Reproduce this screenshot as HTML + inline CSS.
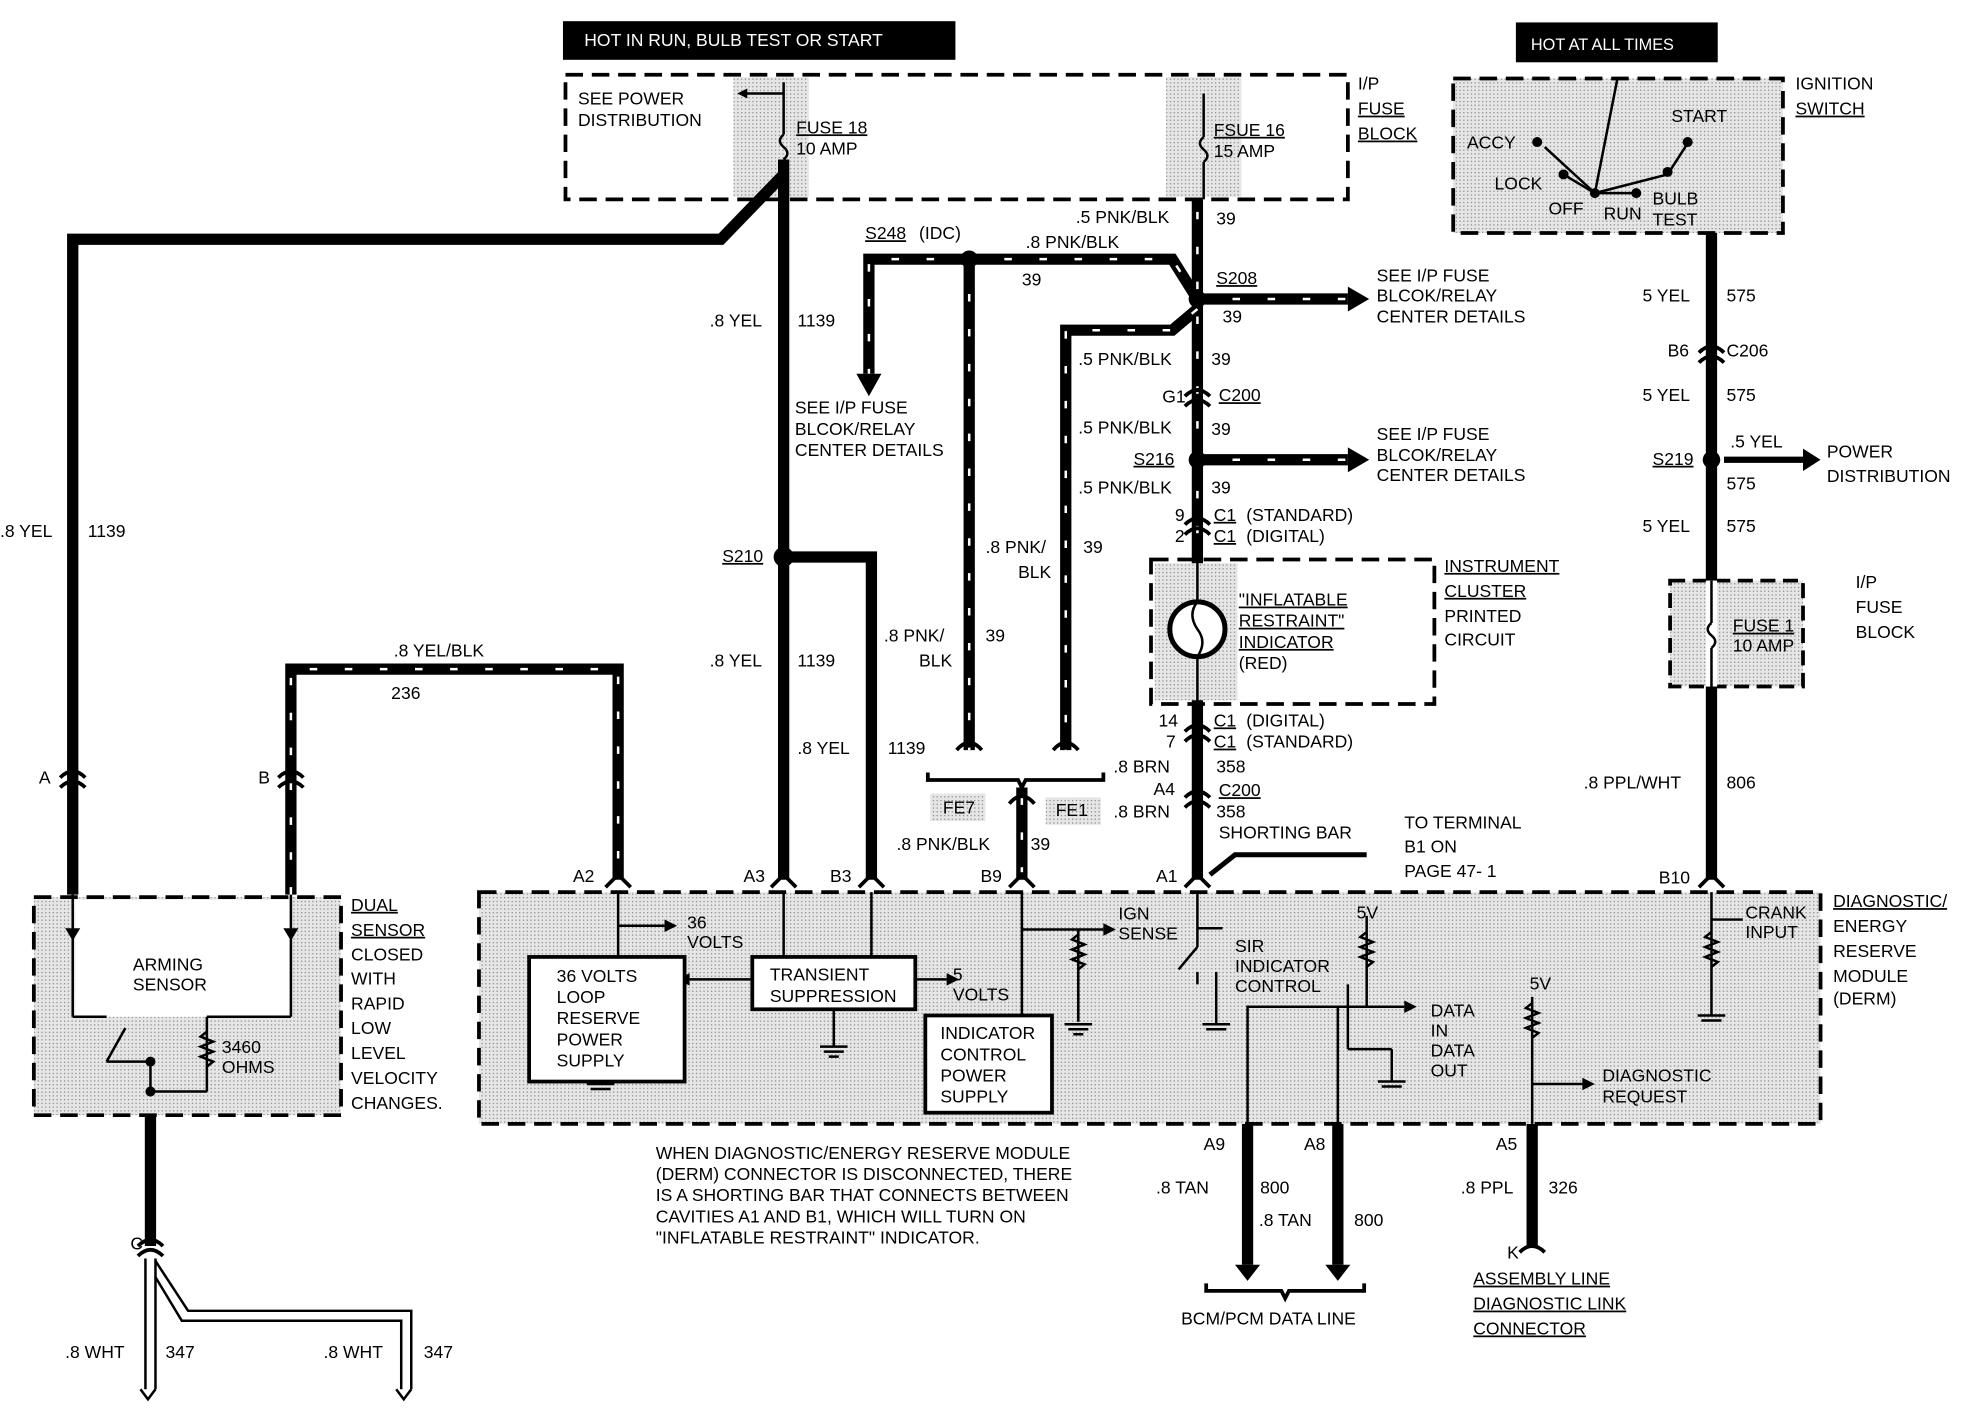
<!DOCTYPE html>
<html><head><meta charset="utf-8"><style>
html,body{margin:0;padding:0;background:#fff}
svg{display:block}
text{font-family:"Liberation Sans",sans-serif;font-size:14px;fill:#000}
</style></head><body>
<svg width="1966" height="1408" viewBox="0 0 1568 1130" preserveAspectRatio="none" xmlns="http://www.w3.org/2000/svg">
<defs>
<pattern id="st" width="3" height="3" patternUnits="userSpaceOnUse"><rect width="3" height="3" fill="#e6e6e6"/><rect width="1" height="1" fill="#888"/></pattern>
<marker id="ar" markerWidth="8" markerHeight="8" refX="4" refY="4" orient="auto" markerUnits="userSpaceOnUse"><path d="M0,0 L8,4 L0,8 z"/></marker>
</defs>
<rect x="449" y="17" width="313" height="31" fill="#000"/>
<text x="466" y="37" style="fill:#fff;font-size:14px">HOT  IN  RUN,  BULB  TEST  OR  START</text>
<rect x="1209" y="18" width="161" height="32" fill="#000"/>
<text x="1221" y="40" style="fill:#fff;font-size:13px">HOT  AT  ALL  TIMES</text>

<rect x="585" y="62" width="60" height="96" fill="url(#st)"/>
<rect x="930" y="62" width="60" height="96" fill="url(#st)"/>
<rect x="451" y="60" width="624" height="100" fill="none" stroke="#000" stroke-width="3" stroke-dasharray="14,7"/>
<text x="461" y="84">SEE POWER</text><text x="461" y="101">DISTRIBUTION</text>
<line x1="625" y1="75" x2="592" y2="75" stroke="#000" stroke-width="2" marker-end="url(#ar)"/>
<line x1="625" y1="66" x2="625" y2="108" stroke="#000" stroke-width="2"/>
<path d="M625,108 q-6,5 0,10 q6,5 0,10" fill="none" stroke="#000" stroke-width="2"/>
<text x="635" y="107" text-decoration="underline">FUSE 18</text><text x="635" y="124">10 AMP</text>
<line x1="960" y1="75" x2="960" y2="110" stroke="#000" stroke-width="2"/>
<path d="M960,110 q-6,5 0,10 q6,5 0,10" fill="none" stroke="#000" stroke-width="2"/>
<line x1="960" y1="130" x2="960" y2="160" stroke="#000" stroke-width="2"/>
<text x="968" y="109" text-decoration="underline">FSUE 16</text><text x="968" y="126">15 AMP</text>
<text x="1083" y="72">I/P</text><text x="1083" y="92" text-decoration="underline">FUSE</text><text x="1083" y="112" text-decoration="underline">BLOCK</text>

<g stroke="#000" stroke-width="9" fill="none">
<line x1="625" y1="128" x2="625" y2="706"/>
<polyline points="625,140 575,192 58,192 58,718"/>
<polyline points="625,447 695,447 695,706"/>
<polyline points="232,718 232,537 493,537 493,706"/>
<line x1="955" y1="160" x2="955" y2="706"/>
<polyline points="773,208 935,208 955,240"/>
<polyline points="773,208 693,208 693,300"/>
<line x1="955" y1="240" x2="1075" y2="240"/>
<polyline points="955,248 935,265 850,265 850,602"/>
<line x1="773" y1="208" x2="773" y2="602"/>
<line x1="955" y1="369" x2="1075" y2="369"/>
<line x1="1365" y1="187" x2="1365" y2="706"/>
<line x1="815" y1="632" x2="815" y2="706"/>
<line x1="995" y1="902" x2="995" y2="1015"/>
<line x1="1067" y1="902" x2="1067" y2="1015"/>
<line x1="1222" y1="902" x2="1222" y2="1000"/>
<line x1="120" y1="880" x2="120" y2="1000"/>
</g>
<g stroke="#fff" stroke-width="2" fill="none" stroke-dasharray="6,22">
<polyline points="232,718 232,537 493,537 493,706"/>
<polyline points="773,208 935,208 955,240"/>
<polyline points="773,208 693,208 693,300"/>
<line x1="955" y1="240" x2="1075" y2="240"/>
<polyline points="955,248 935,265 850,265 850,602"/>
<line x1="773" y1="208" x2="773" y2="602"/>
<line x1="955" y1="369" x2="1075" y2="369"/>
<line x1="815" y1="640" x2="815" y2="700"/>
<line x1="955" y1="170" x2="955" y2="440"/>
</g>
<polygon points="1075,230 1092,240 1075,250" />
<polygon points="1075,359 1092,369 1075,379" />
<polygon points="683,300 693,318 703,300"/>
<polygon points="985,1015 995,1028 1005,1015"/>
<polygon points="1057,1015 1067,1028 1077,1015"/>
<line x1="1375" y1="369" x2="1440" y2="369" stroke="#000" stroke-width="5"/>
<polygon points="1438,360 1452,369 1438,378"/>
<g fill="#000"><circle cx="773" cy="208" r="7"/><circle cx="955" cy="240" r="7"/><circle cx="955" cy="369" r="7"/><circle cx="625" cy="447" r="8"/><circle cx="1365" cy="369" r="7"/></g>

<text x="858" y="179">.5 PNK/BLK</text><text x="970" y="180">39</text>
<text x="690" y="192" text-decoration="underline">S248</text><text x="733" y="192">(IDC)</text>
<text x="818" y="199">.8 PNK/BLK</text><text x="815" y="229">39</text>
<text x="970" y="228" text-decoration="underline">S208</text><text x="975" y="259">39</text>
<text x="1098" y="226">SEE I/P FUSE</text><text x="1098" y="242">BLCOK/RELAY</text><text x="1098" y="259">CENTER DETAILS</text>
<text x="566" y="262">.8 YEL</text><text x="636" y="262">1139</text>
<text x="634" y="332">SEE I/P FUSE</text><text x="634" y="349">BLCOK/RELAY</text><text x="634" y="366">CENTER DETAILS</text>
<text x="860" y="293">.5 PNK/BLK</text><text x="966" y="293">39</text>
<text x="927" y="323">G1</text><text x="972" y="322" text-decoration="underline">C200</text>
<text x="860" y="348">.5 PNK/BLK</text><text x="966" y="349">39</text>
<text x="904" y="373" text-decoration="underline">S216</text><text x="966" y="396">39</text>
<text x="860" y="396">.5 PNK/BLK</text>
<text x="1098" y="353">SEE I/P FUSE</text><text x="1098" y="370">BLCOK/RELAY</text><text x="1098" y="386">CENTER DETAILS</text>
<text x="937" y="418">9</text><text x="968" y="418" text-decoration="underline">C1</text><text x="994" y="418">(STANDARD)</text>
<text x="937" y="435">2</text><text x="968" y="435" text-decoration="underline">C1</text><text x="994" y="435">(DIGITAL)</text>
<text x="0" y="431">.8 YEL</text><text x="70" y="431">1139</text>
<text x="576" y="451" text-decoration="underline">S210</text>
<text x="786" y="444">.8 PNK/</text><text x="812" y="464">BLK</text><text x="864" y="444">39</text>
<text x="566" y="535">.8 YEL</text><text x="636" y="535">1139</text>
<text x="705" y="515">.8 PNK/</text><text x="733" y="535">BLK</text><text x="786" y="515">39</text>
<text x="314" y="527">.8 YEL/BLK</text><text x="312" y="561">236</text>
<text x="636" y="605">.8 YEL</text><text x="708" y="605">1139</text>
<text x="31" y="629">A</text><text x="206" y="629">B</text>
<text x="1310" y="242">5 YEL</text><text x="1377" y="242">575</text>
<text x="1330" y="286">B6</text><text x="1377" y="286">C206</text>
<text x="1310" y="322">5 YEL</text><text x="1377" y="322">575</text>
<text x="1318" y="373" text-decoration="underline">S219</text>
<text x="1380" y="359">.5 YEL</text><text x="1377" y="393">575</text>
<text x="1457" y="367">POWER</text><text x="1457" y="387">DISTRIBUTION</text>
<text x="1310" y="427">5 YEL</text><text x="1377" y="427">575</text>
<text x="1263" y="633">.8 PPL/WHT</text><text x="1377" y="633">806</text>

<rect x="1159" y="63" width="263" height="124" fill="url(#st)" stroke="#000" stroke-width="3" stroke-dasharray="14,7"/>
<text x="1432" y="72">IGNITION</text><text x="1432" y="92" text-decoration="underline">SWITCH</text>
<g stroke="#000" stroke-width="2" fill="none">
<line x1="1290" y1="63" x2="1272" y2="155"/>
<line x1="1272" y1="155" x2="1247" y2="140"/>
<line x1="1272" y1="155" x2="1232" y2="118"/><line x1="1272" y1="155" x2="1305" y2="155"/>
<line x1="1272" y1="155" x2="1330" y2="140"/><line x1="1330" y1="140" x2="1346" y2="115"/>
</g>
<g fill="#000"><circle cx="1272" cy="155" r="4"/><circle cx="1226" cy="114" r="4"/><circle cx="1247" cy="140" r="4"/><circle cx="1305" cy="155" r="4"/><circle cx="1330" cy="138" r="4"/><circle cx="1346" cy="114" r="4"/></g>
<text x="1170" y="119">ACCY</text><text x="1192" y="152">LOCK</text><text x="1235" y="172">OFF</text><text x="1279" y="176">RUN</text>
<text x="1333" y="98">START</text><text x="1318" y="164">BULB</text><text x="1318" y="181">TEST</text>

<rect x="918" y="449" width="226" height="116" fill="none" stroke="#000" stroke-width="3" stroke-dasharray="14,7"/>
<rect x="921" y="452" width="66" height="110" fill="url(#st)"/>
<line x1="955" y1="440" x2="955" y2="575" stroke="#000" stroke-width="2"/>
<circle cx="955" cy="505" r="22" fill="#fff" stroke="#000" stroke-width="4"/>
<path d="M955,483 q-8,10 0,22 q8,10 0,22" fill="none" stroke="#000" stroke-width="2"/>
<text x="988" y="486" text-decoration="underline">"INFLATABLE</text><text x="988" y="503" text-decoration="underline">RESTRAINT"</text>
<text x="988" y="520" text-decoration="underline">INDICATOR</text><text x="988" y="537">(RED)</text>
<text x="1152" y="459" text-decoration="underline">INSTRUMENT</text><text x="1152" y="479" text-decoration="underline">CLUSTER</text>
<text x="1152" y="499">PRINTED</text><text x="1152" y="518">CIRCUIT</text>
<text x="924" y="583">14</text><text x="968" y="583" text-decoration="underline">C1</text><text x="994" y="583">(DIGITAL)</text>
<text x="930" y="600">7</text><text x="968" y="600" text-decoration="underline">C1</text><text x="994" y="600">(STANDARD)</text>
<text x="888" y="620">.8 BRN</text><text x="970" y="620">358</text>
<text x="920" y="638">A4</text><text x="972" y="639" text-decoration="underline">C200</text>
<text x="888" y="656">.8 BRN</text><text x="970" y="656">358</text>
<text x="972" y="673">SHORTING BAR</text>
<polyline points="965,702 985,686 1090,686" fill="none" stroke="#000" stroke-width="4"/>
<text x="1120" y="665">TO TERMINAL</text><text x="1120" y="684">B1 ON</text><text x="1120" y="704">PAGE 47- 1</text>

<rect x="1332" y="466" width="106" height="85" fill="url(#st)" stroke="#000" stroke-width="3" stroke-dasharray="12,6"/>
<line x1="1365" y1="466" x2="1365" y2="551" stroke="#fff" stroke-width="9"/>
<line x1="1365" y1="466" x2="1365" y2="500" stroke="#000" stroke-width="2"/>
<path d="M1365,500 q-6,5 0,10 q6,5 0,10" fill="none" stroke="#000" stroke-width="2"/>
<line x1="1365" y1="520" x2="1365" y2="551" stroke="#000" stroke-width="2"/>
<text x="1382" y="507" text-decoration="underline">FUSE 1</text><text x="1382" y="523">10 AMP</text>
<text x="1480" y="472">I/P</text><text x="1480" y="492">FUSE</text><text x="1480" y="512">BLOCK</text>

<path d="M763,602 q10,-12 20,0 M840,602 q10,-12 20,0" fill="none" stroke="#000" stroke-width="3"/>
<path d="M740,620 L740,626 L812,626 L815,632 L818,626 L880,626 L880,620" fill="none" stroke="#000" stroke-width="3"/>
<rect x="742" y="637" width="44" height="22" fill="url(#st)"/><text x="752" y="653">FE7</text>
<rect x="834" y="640" width="44" height="22" fill="url(#st)"/><text x="842" y="655">FE1</text>
<path d="M805,645 q10,-12 20,0" fill="none" stroke="#000" stroke-width="3"/>
<text x="715" y="682">.8 PNK/BLK</text><text x="822" y="682">39</text>

<g fill="none" stroke="#000" stroke-width="3">
<path d="M48,624 q10,-10 20,0 M48,632 q10,-10 20,0"/>
<path d="M222,624 q10,-10 20,0 M222,632 q10,-10 20,0"/>
<path d="M945,318 q10,-10 20,0 M945,326 q10,-10 20,0"/>
<path d="M945,421 q10,-10 20,0 M945,429 q10,-10 20,0"/>
<path d="M945,587 q10,-10 20,0 M945,595 q10,-10 20,0"/>
<path d="M945,640 q10,-10 20,0 M945,648 q10,-10 20,0"/>
<path d="M1355,283 q10,-10 20,0 M1355,291 q10,-10 20,0"/>
<path d="M110,1000 q10,-10 20,0 M110,1008 q10,-10 20,0"/>
<path d="M1212,1005 q10,-10 20,0"/>
</g>

<rect x="382" y="716" width="1070" height="186" fill="url(#st)" stroke="#000" stroke-width="3" stroke-dasharray="14,7"/>
<g stroke="#000" stroke-width="2" fill="none">
<polyline points="995,902 995,808 1067,808 1067,902"/>
</g>
<g stroke="#000" stroke-width="3" fill="none">
<path d="M483,712 l10,-10 l10,10 M615,712 l10,-10 l10,10 M685,712 l10,-10 l10,10 M805,712 l10,-10 l10,10 M945,712 l10,-10 l10,10 M1355,712 l10,-10 l10,10"/>
</g>
<text x="457" y="708">A2</text><text x="593" y="708">A3</text><text x="662" y="708">B3</text><text x="782" y="708">B9</text><text x="922" y="708">A1</text><text x="1323" y="709">B10</text>
<g stroke="#000" stroke-width="2" fill="none">
<line x1="493" y1="716" x2="493" y2="768"/><line x1="493" y1="743" x2="530" y2="743"/>
<line x1="625" y1="716" x2="625" y2="768"/><line x1="695" y1="716" x2="695" y2="768"/>
<line x1="600" y1="786" x2="550" y2="786"/><line x1="730" y1="786" x2="755" y2="786"/>
<line x1="665" y1="810" x2="665" y2="840"/>
<line x1="815" y1="716" x2="815" y2="815"/><line x1="815" y1="746" x2="880" y2="746"/>
<line x1="860" y1="746" x2="860" y2="820"/>
<line x1="955" y1="716" x2="955" y2="760"/><line x1="955" y1="760" x2="940" y2="778"/><line x1="955" y1="780" x2="955" y2="790"/>
<line x1="955" y1="745" x2="975" y2="745"/><line x1="970" y1="780" x2="970" y2="822"/>
<line x1="1090" y1="735" x2="1090" y2="808"/><line x1="1067" y1="808" x2="1120" y2="808"/>
<line x1="1075" y1="790" x2="1075" y2="842"/><line x1="1075" y1="842" x2="1110" y2="842"/><line x1="1110" y1="842" x2="1110" y2="868"/>
<line x1="1222" y1="800" x2="1222" y2="902"/><line x1="1222" y1="870" x2="1262" y2="870"/>
<line x1="1365" y1="716" x2="1365" y2="815"/><line x1="1365" y1="738" x2="1390" y2="738"/>
<path d="M860,750 l-5,4 l10,4 l-10,4 l10,4 l-10,4 l10,4 l-5,4"/>
<path d="M1090,748 l-5,4 l10,4 l-10,4 l10,4 l-10,4 l10,4 l-5,4"/>
<path d="M1222,805 l-5,4 l10,4 l-10,4 l10,4 l-10,4 l10,4 l-5,4"/>
<path d="M1365,748 l-5,4 l10,4 l-10,4 l10,4 l-10,4 l10,4 l-5,4"/>
<path d="M849,822 h22 M852,826 h16 M856,830 h8 M654,840 h22 M657,844 h16 M661,848 h8 M959,822 h22 M962,826 h16 M1354,815 h22 M1357,819 h16 M1099,868 h22 M1102,872 h16 M468,870 h22 M471,874 h16"/>
</g>
<g fill="#000"><polygon points="530,738 540,743 530,748"/><polygon points="755,781 765,786 755,791"/><polygon points="550,781 540,786 550,791"/><polygon points="880,741 890,746 880,751"/><polygon points="1120,803 1130,808 1120,813"/><polygon points="1262,865 1272,870 1262,875"/></g>
<rect x="422" y="768" width="124" height="100" fill="#fff" stroke="#000" stroke-width="3"/>
<text x="444" y="788">36 VOLTS</text><text x="444" y="805">LOOP</text><text x="444" y="822">RESERVE</text><text x="444" y="839">POWER</text><text x="444" y="856">SUPPLY</text>
<rect x="600" y="768" width="130" height="42" fill="#fff" stroke="#000" stroke-width="3"/>
<text x="614" y="787">TRANSIENT</text><text x="614" y="804">SUPPRESSION</text>
<rect x="738" y="815" width="101" height="78" fill="#fff" stroke="#000" stroke-width="3"/>
<text x="750" y="834">INDICATOR</text><text x="750" y="851">CONTROL</text><text x="750" y="868">POWER</text><text x="750" y="885">SUPPLY</text>
<text x="548" y="745">36</text><text x="548" y="761">VOLTS</text>
<text x="760" y="787">5</text><text x="760" y="803">VOLTS</text>
<text x="892" y="738">IGN</text><text x="892" y="754">SENSE</text>
<text x="985" y="764">SIR</text><text x="985" y="780">INDICATOR</text><text x="985" y="796">CONTROL</text>
<text x="1082" y="737">5V</text><text x="1220" y="794">5V</text>
<text x="1141" y="816">DATA</text><text x="1141" y="832">IN</text><text x="1141" y="848">DATA</text><text x="1141" y="864">OUT</text>
<text x="1278" y="868">DIAGNOSTIC</text><text x="1278" y="885">REQUEST</text>
<text x="1392" y="737">CRANK</text><text x="1392" y="753">INPUT</text>
<text x="1462" y="728" text-decoration="underline">DIAGNOSTIC/</text><text x="1462" y="748">ENERGY</text><text x="1462" y="768">RESERVE</text><text x="1462" y="788">MODULE</text><text x="1462" y="806">(DERM)</text>

<rect x="27" y="720" width="245" height="175" fill="url(#st)" stroke="#000" stroke-width="3" stroke-dasharray="14,7"/>
<rect x="60" y="722" width="172" height="94" fill="#fff"/>
<g stroke="#000" stroke-width="2" fill="none">
<line x1="58" y1="718" x2="58" y2="816"/><line x1="58" y1="816" x2="85" y2="816"/>
<line x1="232" y1="718" x2="232" y2="816"/><line x1="232" y1="816" x2="165" y2="816"/>
<line x1="165" y1="816" x2="165" y2="876"/><line x1="120" y1="876" x2="165" y2="876"/>
<line x1="120" y1="852" x2="120" y2="880"/><line x1="85" y1="852" x2="120" y2="852"/><line x1="85" y1="852" x2="100" y2="825"/>
<path d="M165,828 l-5,4 l10,4 l-10,4 l10,4 l-10,4 l10,4 l-5,4"/>
</g>
<polygon points="52,745 58,755 64,745"/><polygon points="226,745 232,755 238,745"/>
<circle cx="120" cy="852" r="4"/><circle cx="120" cy="876" r="4"/>
<text x="106" y="779">ARMING</text><text x="106" y="795">SENSOR</text>
<text x="177" y="845">3460</text><text x="177" y="861">OHMS</text>
<text x="280" y="731" text-decoration="underline">DUAL</text><text x="280" y="751" text-decoration="underline">SENSOR</text>
<text x="280" y="771">CLOSED</text><text x="280" y="790">WITH</text><text x="280" y="810">RAPID</text><text x="280" y="830">LOW</text><text x="280" y="850">LEVEL</text><text x="280" y="870">VELOCITY</text><text x="280" y="890">CHANGES.</text>

<g stroke="#000" stroke-width="2" fill="none">
<path d="M116,1010 V1115 M124,1010 V1115"/>
<path d="M124,1012 L150,1052 H328 V1115 M124,1025 L145,1060 H320 V1115"/>
<path d="M112,1115 l6,8 l6,-8 M316,1115 l6,8 l6,-8"/>
<path d="M962,1030 v6 h60 l3,6 l3,-6 h60 v-6" stroke-width="3"/>
</g>
<text x="104" y="1003">C</text><text x="1202" y="1010">K</text>
<text x="52" y="1090">.8 WHT</text><text x="132" y="1090">347</text>
<text x="258" y="1090">.8 WHT</text><text x="338" y="1090">347</text>
<text x="523" y="930">WHEN DIAGNOSTIC/ENERGY RESERVE MODULE</text>
<text x="523" y="947">(DERM) CONNECTOR IS DISCONNECTED, THERE</text>
<text x="523" y="964">IS A SHORTING BAR THAT CONNECTS BETWEEN</text>
<text x="523" y="981">CAVITIES A1 AND B1, WHICH WILL TURN ON</text>
<text x="523" y="998">"INFLATABLE RESTRAINT" INDICATOR.</text>
<text x="960" y="923">A9</text><text x="1040" y="923">A8</text><text x="1193" y="923">A5</text>
<text x="922" y="958">.8 TAN</text><text x="1005" y="958">800</text>
<text x="1004" y="984">.8 TAN</text><text x="1080" y="984">800</text>
<text x="1165" y="958">.8 PPL</text><text x="1235" y="958">326</text>
<text x="942" y="1063">BCM/PCM DATA LINE</text>
<text x="1175" y="1031" text-decoration="underline">ASSEMBLY LINE</text>
<text x="1175" y="1051" text-decoration="underline">DIAGNOSTIC LINK</text>
<text x="1175" y="1071" text-decoration="underline">CONNECTOR</text>
</svg>
</body></html>
